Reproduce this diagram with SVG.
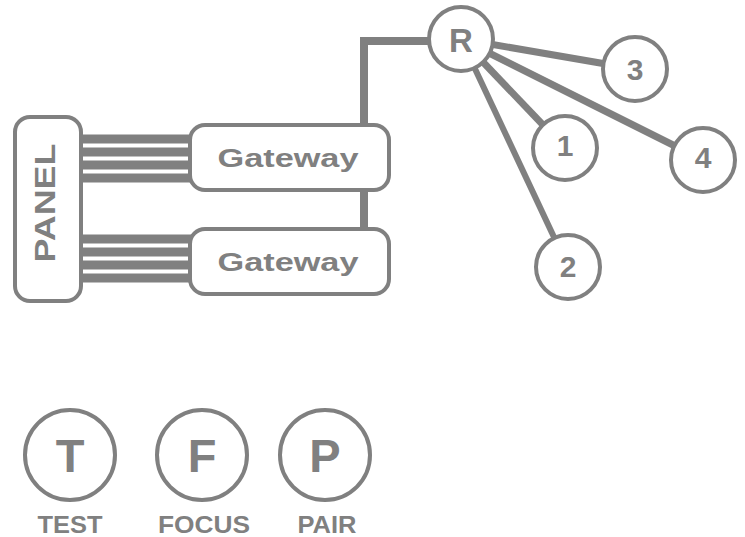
<svg xmlns="http://www.w3.org/2000/svg" width="745" height="537" viewBox="0 0 745 537">
<style>
.box{fill:#fff;stroke:#808080;stroke-width:4}
.wire{stroke:#808080;fill:none}
.t{font-family:"Liberation Sans",Arial,sans-serif;font-weight:bold;fill:#808080;text-anchor:middle}
</style>
<rect width="745" height="537" fill="#fff"/>
<g id="connectors" class="wire">
  <g stroke-width="9">
    <line x1="80" y1="139" x2="192" y2="139"/>
    <line x1="80" y1="152" x2="192" y2="152"/>
    <line x1="80" y1="165" x2="192" y2="165"/>
    <line x1="80" y1="178" x2="192" y2="178"/>
    <line x1="80" y1="239" x2="192" y2="239"/>
    <line x1="80" y1="252" x2="192" y2="252"/>
    <line x1="80" y1="265" x2="192" y2="265"/>
    <line x1="80" y1="278" x2="192" y2="278"/>
  </g>
  <polyline points="364,229 364,41 461,41" stroke-width="8"/>
  <line x1="461" y1="39" x2="635" y2="69" stroke-width="7"/>
  <line x1="461" y1="39" x2="565" y2="148" stroke-width="7"/>
  <line x1="461" y1="39" x2="703" y2="160" stroke-width="7"/>
  <line x1="461" y1="39" x2="568" y2="267" stroke-width="6"/>
</g>
<g id="panel">
  <rect class="box" x="15" y="117" width="66" height="184" rx="15"/>
  <text class="t" font-size="30" transform="translate(55,203) rotate(-90)" textLength="119" lengthAdjust="spacingAndGlyphs">PANEL</text>
</g>
<g id="gateway1">
  <rect class="box" x="190" y="125" width="199" height="65" rx="15"/>
  <text class="t" x="288" y="167" font-size="26" textLength="141" lengthAdjust="spacingAndGlyphs">Gateway</text>
</g>
<g id="gateway2">
  <rect class="box" x="190" y="229" width="199" height="65" rx="15"/>
  <text class="t" x="288" y="271" font-size="26" textLength="141" lengthAdjust="spacingAndGlyphs">Gateway</text>
</g>
<g id="router">
  <circle class="box" cx="461" cy="39" r="32"/>
  <text class="t" x="461" y="52" font-size="33">R</text>
</g>
<g id="node3">
  <circle class="box" cx="635" cy="69" r="32"/>
  <text class="t" x="635" y="80" font-size="30">3</text>
</g>
<g id="node1">
  <circle class="box" cx="565" cy="148" r="32"/>
  <text class="t" x="565" y="156" font-size="30">1</text>
</g>
<g id="node4">
  <circle class="box" cx="703" cy="160" r="32"/>
  <text class="t" x="703" y="168" font-size="30">4</text>
</g>
<g id="node2">
  <circle class="box" cx="568" cy="267" r="32"/>
  <text class="t" x="568" y="277" font-size="30">2</text>
</g>
<g id="test">
  <circle class="box" cx="70" cy="455" r="45"/>
  <text class="t" x="70" y="472" font-size="47">T</text>
  <text class="t" x="70" y="533" font-size="24" textLength="65" lengthAdjust="spacingAndGlyphs">TEST</text>
</g>
<g id="focus">
  <circle class="box" cx="202" cy="455" r="45"/>
  <text class="t" x="202" y="472" font-size="47">F</text>
  <text class="t" x="204" y="533" font-size="24" textLength="92" lengthAdjust="spacingAndGlyphs">FOCUS</text>
</g>
<g id="pair">
  <circle class="box" cx="325" cy="455" r="45"/>
  <text class="t" x="325" y="472" font-size="47">P</text>
  <text class="t" x="327" y="533" font-size="24" textLength="59" lengthAdjust="spacingAndGlyphs">PAIR</text>
</g>
</svg>
